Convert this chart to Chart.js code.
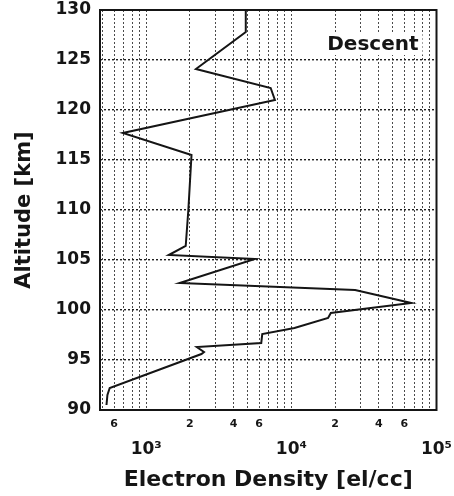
<!DOCTYPE html>
<html>
<head>
<meta charset="utf-8">
<script src="https://cdn.jsdelivr.net/npm/chart.js@4.4.1/dist/chart.umd.min.js"></script>
<style>
  html, body { margin: 0; padding: 0; background: #fff; }
  canvas { display: block; }
</style>
</head>
<body>
<canvas id="profile" width="454" height="496"></canvas>
<script>
// Electron density profile measured on the descent leg (altitude in km, density in el/cc)
const altitudeKm = [130.0, 127.8, 124.1, 122.2, 121.0, 117.7, 115.5, 110.0, 106.4, 105.5,
                    105.1, 102.7, 102.0, 100.7, 99.7, 99.2, 98.2, 97.6, 96.7, 96.3,
                    95.8, 95.6, 92.2, 91.5, 90.5];
const densityElCc = [4850, 4850, 2200, 7200, 7700, 690, 2050, 1950, 1870, 1430,
                     5600, 1700, 27500, 67000, 18700, 17900, 10500, 6300, 6200, 2230,
                     2500, 2400, 560, 540, 532];

// Axis ranges and tick labels
const densityMin = 480;
const densityMax = 100000;
const labeledDensities = [600, 2000, 4000, 6000, 20000, 40000, 60000];
const labeledDigits = ['6', '2', '4', '6', '2', '4', '6'];
const decadeValues = [1000, 10000, 100000];
const decadeLabels = ['10\u00B3', '10\u2074', '10\u2075'];
const altitudeMin = 90;
const altitudeMax = 130;
const altitudeStep = 5;
const panelLabel = 'Descent';

// grid lines at every 1..9 x 10^n inside the density range
const gridDensities = [];
for (let e = 2; e <= 5; e++) {
  for (let m = 1; m <= 9; m++) {
    const v = m * Math.pow(10, e);
    if (v >= densityMin && v <= densityMax) gridDensities.push(v);
  }
}

Chart.defaults.font.family = "'DejaVu Sans', sans-serif";
Chart.defaults.font.weight = 'bold';
Chart.defaults.color = '#151515';

const frameAndLabel = {
  id: 'frameAndLabel',
  beforeDatasetsDraw(chart) {
    const { ctx, chartArea: a } = chart;
    ctx.save();
    // panel label with a white patch behind it
    ctx.font = "bold 20px 'DejaVu Sans', sans-serif";
    const w = ctx.measureText(panelLabel).width;
    const right = a.right - 18;
    const base = a.top + 40;
    ctx.fillStyle = '#fff';
    ctx.fillRect(right - w - 4, base - 18, w + 8, 23);
    ctx.fillStyle = '#151515';
    ctx.textAlign = 'right';
    ctx.textBaseline = 'alphabetic';
    ctx.fillText(panelLabel, right, base);
    // plot frame
    ctx.strokeStyle = '#151515';
    ctx.lineWidth = 2;
    ctx.strokeRect(a.left, a.top, a.right - a.left, a.bottom - a.top);
    ctx.restore();
  }
};

new Chart(document.getElementById('profile'), {
  type: 'scatter',
  data: {
    datasets: [{
      label: panelLabel,
      data: altitudeKm.map((alt, i) => ({ x: densityElCc[i], y: alt })),
      showLine: true,
      borderColor: '#151515',
      borderWidth: 2,
      pointRadius: 0,
      tension: 0
    }]
  },
  options: {
    responsive: false,
    animation: false,
    devicePixelRatio: 1,
    layout: { padding: { top: 10, right: 17.5, bottom: 0, left: 0 } },
    plugins: { legend: { display: false }, tooltip: { enabled: false } },
    scales: {
      x: {
        type: 'logarithmic',
        position: 'bottom',
        weight: 1,
        min: densityMin,
        max: densityMax,
        afterBuildTicks: s => { s.ticks = gridDensities.map(v => ({ value: v })); },
        afterFit: s => { s.height = 21; s.paddingLeft = 0; s.paddingRight = 0; },
        ticks: {
          autoSkip: false,
          maxRotation: 0,
          padding: 8,
          font: { size: 11 },
          callback: v => {
            const i = labeledDensities.indexOf(v);
            return i >= 0 ? labeledDigits[i] : '';
          }
        },
        grid: { drawTicks: false, color: '#4a4a4a', lineWidth: 1 },
        border: { display: false, dash: [2, 2] }
      },
      x2: {
        type: 'logarithmic',
        position: 'bottom',
        weight: 2,
        min: densityMin,
        max: densityMax,
        afterBuildTicks: s => { s.ticks = decadeValues.map(v => ({ value: v })); },
        afterFit: s => { s.height = 65; s.paddingLeft = 0; s.paddingRight = 0; },
        ticks: {
          autoSkip: false,
          maxRotation: 0,
          padding: 0,
          font: { size: 17 },
          callback: v => {
            const i = decadeValues.indexOf(v);
            return i >= 0 ? decadeLabels[i] : '';
          }
        },
        grid: { display: false },
        border: { display: false },
        title: {
          display: true,
          text: 'Electron Density [el/cc]',
          font: { size: 22 },
          padding: { top: 0, bottom: 3 }
        }
      },
      y: {
        type: 'linear',
        position: 'left',
        min: altitudeMin,
        max: altitudeMax,
        afterFit: s => { s.width = 100; s.paddingTop = 0; s.paddingBottom = 0; },
        ticks: { stepSize: altitudeStep, padding: 9, font: { size: 17 } },
        grid: { drawTicks: false, color: '#1e1e1e', lineWidth: 1.4 },
        border: { display: false, dash: [2, 2] },
        title: {
          display: true,
          text: 'Altitude [km]',
          font: { size: 21 },
          padding: { top: 12, bottom: 0 }
        }
      }
    }
  },
  plugins: [frameAndLabel]
});
</script>
</body>
</html>
